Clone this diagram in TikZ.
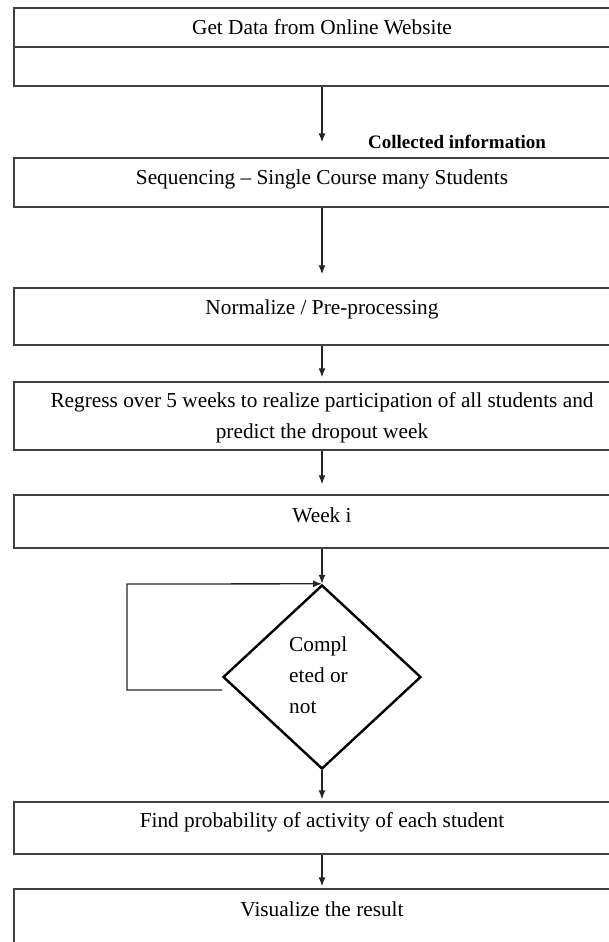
\documentclass[tikz,border=0pt]{standalone}
\usepackage{fontspec}
\setmainfont{Liberation Serif}
\usetikzlibrary{shapes.geometric,arrows.meta}
\begin{document}
\begin{tikzpicture}[x=1pt,y=-1pt,
  stepbox/.style={draw=black!75,line width=1.4pt,rectangle,minimum width=616pt,inner sep=0pt},
  lbl/.style={font=\fontsize{21.3}{31}\selectfont,inner sep=0pt,align=center},
  arr/.style={draw=black!85,line width=1.3pt,-{Latex[length=9pt,width=7pt]}},
  decision/.style={draw=black,line width=2.4pt,diamond,minimum width=198pt,minimum height=184pt,inner sep=0pt}]
\useasboundingbox (0,0) rectangle (609,942);
\clip (0,0) rectangle (609,942);
\fill[white] (0,0) rectangle (609,942);
% boxes
\node[stepbox,minimum height=78pt] (b1) at (322,47) {};
\node[stepbox,minimum height=49pt] (b2) at (322,182.5) {};
\node[stepbox,minimum height=57pt] (b3) at (322,316.5) {};
\node[stepbox,minimum height=68pt] (b4) at (322,416) {};
\node[stepbox,minimum height=53pt] (b5) at (322,521.5) {};
\node[decision] (d) at (322,677) {};
\node[stepbox,minimum height=52pt] (b6) at (322,828) {};
\node[stepbox,minimum height=80pt] (b7) at (322,929) {};
\draw[draw=black!75,line width=1.4pt] (b1.west) -- (b1.east);
% texts
\node[lbl] (t1) at (322,27) {Get Data from Online Website};
\node[lbl] (t2) at (322,179) {Sequencing -- Single Course many Students};
\node[lbl] (t3) at (322,309) {Normalize / Pre-processing};
\node[lbl] (t4) at (322,417.5) {Regress over 5 weeks to realize participation of all students and\\predict the dropout week};
\node[lbl] (t5) at (322,515) {Week i};
\node[lbl,align=left,anchor=west] (t6) at (289,675) {Compl\\eted or\\not};
\node[lbl] (t7) at (322,822) {Find probability of activity of each student};
\node[lbl] (t8) at (322,909) {Visualize the result};
\node[font=\bfseries\fontsize{19}{22}\selectfont,inner sep=0pt] (ci) at (457,142) {Collected information};
% connectors
\draw[arr,shorten >=15pt] (b1) -- (b2);
\draw[arr,shorten >=13pt] (b2) -- (b3);
\draw[arr,shorten >=4pt] (b3) -- (b4);
\draw[arr,shorten >=10pt] (b4) -- (b5);
\draw[arr] (b5) -- (d.north);
\draw[arr,shorten >=2pt] (d.south) -- (b6);
\draw[arr,shorten >=2pt] (b6) -- (b7);
\coordinate (lp) at (222,690);
\coordinate (lc1) at (127,690);
\coordinate (lc2) at (127,584);
\draw[arr] (lp) -- (lc1) -- (lc2) -- (d.north);
\end{tikzpicture}
\end{document}
